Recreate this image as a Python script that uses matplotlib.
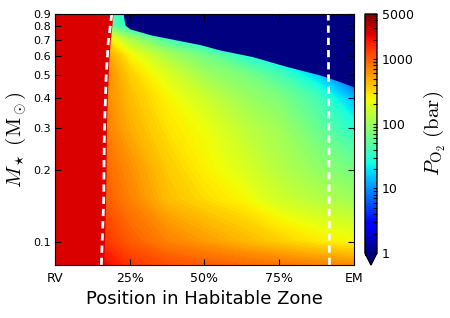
import numpy as np
import matplotlib
matplotlib.use('Agg')
import matplotlib.pyplot as plt
from matplotlib.colors import LogNorm, Normalize

plt.rcParams['mathtext.fontset'] = 'cm'
plt.rcParams['font.family'] = ['DejaVu Sans']

# stellar mass rows (Msun) and position in HZ (0 = RV, 1 = EM)
mass = [0.08, 0.1, 0.15, 0.2, 0.3, 0.4, 0.5, 0.6, 0.7, 0.8, 0.9]
# inner edge of the runaway region for each mass row
red_edge = [0.162, 0.166, 0.169, 0.171, 0.172, 0.175, 0.178, 0.181, 0.185, 0.19, 0.194]
pos = [0.25, 0.375, 0.5, 0.625, 0.75, 0.875, 1.0]

# log10 P_O2 (bar), first column at red_edge, then at pos
logp = [
    [3.35, 3.15, 3.05, 3.0, 2.95, 2.9, 2.85, 2.8],
    [3.15, 3.0, 2.85, 2.75, 2.65, 2.55, 2.45, 2.38],
    [3.0, 2.85, 2.62, 2.5, 2.4, 2.22, 2.1, 2.0],
    [2.95, 2.8, 2.57, 2.42, 2.28, 2.1, 1.95, 1.8],
    [2.85, 2.68, 2.47, 2.35, 2.15, 2.0, 1.75, 1.45],
    [2.8, 2.62, 2.4, 2.2, 2.0, 1.85, 1.6, 1.1],
    [2.8, 2.55, 2.27, 2.0, 1.85, 1.6, 1.2, 0.6],
    [2.7, 2.4, 2.05, 1.8, 1.5, 1.25, 0.9, 0.5],
    [2.4, 2.05, 1.6, 1.3, 1.0, 0.8, 0.5, 0.3],
    [1.7, 1.4, 1.2, 1.0, 0.8, 0.6, 0.4, 0.2],
    [1.6, 1.4, 1.0, 0.8, 0.6, 0.4, 0.2, 0.0],
]
red_val = 2500  # P_O2 inside the runaway region

# edge of the region with P_O2 < 1 bar
blue_x = [0.228, 0.234, 0.25, 0.32, 0.485, 0.552, 0.66, 0.776, 0.886, 0.95, 1.0]
blue_m = [0.9, 0.81, 0.78, 0.736, 0.67, 0.636, 0.597, 0.542, 0.50, 0.47, 0.445]

# dashed lines
dash1_x = [0.155, 0.163, 0.165, 0.171, 0.178, 0.19]
dash1_m = [0.08, 0.15, 0.28, 0.49, 0.68, 0.9]
dash2_x = [0.918, 0.914]
dash2_m = [0.08, 0.9]

cmap = plt.get_cmap('jet')
pmin, pmax = 1, 5000
norm = LogNorm(vmin=pmin, vmax=pmax)

fig = plt.figure(figsize=(4.5, 3.18), dpi=100)
ax = fig.add_axes([0.1222, 0.1667, 0.6644, 0.7893])
cax = fig.add_axes([0.811, 0.1667, 0.0267, 0.7893])

M = np.array(mass)
X = np.column_stack([red_edge] + [np.full(len(mass), p) for p in pos])
Y = np.tile(M[:, None], (1, X.shape[1]))
levels = np.linspace(np.log10(pmin), np.log10(pmax), 150)
cs = ax.contourf(X, Y, np.array(logp), levels=levels, cmap=cmap,
                 norm=Normalize(np.log10(pmin), np.log10(pmax)), extend='both',
                 antialiased=False)
cs.set_edgecolor('face')  # hide the seams between levels
cs.set_linewidth(1.0)

ax.fill_betweenx(mass, 0, red_edge, color=cmap(norm(red_val)), lw=0)
ax.fill_between(blue_x, blue_m, 1.0, color=cmap(0.0), lw=0)

ax.plot(dash1_x, dash1_m, color='white', lw=2, dashes=(2.6, 1.8))
ax.plot(dash2_x, dash2_m, color='white', lw=2, dashes=(2.6, 1.8))

ax.set_yscale('log')
ax.set_xlim(0, 1)
ax.set_ylim(0.08, 0.9)
yt = [0.1, 0.2, 0.3, 0.4, 0.5, 0.6, 0.7, 0.8, 0.9]
ax.set_yticks(yt)
ax.set_yticklabels([str(v) for v in yt])
ax.yaxis.set_minor_locator(matplotlib.ticker.NullLocator())
ax.set_xticks([0, 0.25, 0.5, 0.75, 1.0])
ax.set_xticklabels(['RV', '25%', '50%', '75%', 'EM'])
ax.tick_params(which='both', direction='in', top=True, right=True, length=4)
ax.tick_params(axis='y', labelsize=8, pad=3)
ax.tick_params(axis='x', labelsize=9, pad=5)
ax.set_xlabel('Position in Habitable Zone', fontsize=13, labelpad=4)
ax.set_ylabel(r'$M_\star\ (\mathrm{M}_\odot)$', fontsize=15, labelpad=4)

sm = matplotlib.cm.ScalarMappable(norm=norm, cmap=cmap)
cb = fig.colorbar(sm, cax=cax, extend='min')
cb.set_ticks([1, 10, 100, 1000, 5000])
cb.set_ticklabels(['1', '10', '100', '1000', '5000'])
cax.tick_params(which='both', direction='in', length=3, labelsize=9, width=0.8)
cb.set_label(r'$P_{\mathrm{O}_2}\ (\mathrm{bar})$', fontsize=15, labelpad=6)
cb.outline.set_linewidth(1)

fig.savefig('out.png', dpi=100)
